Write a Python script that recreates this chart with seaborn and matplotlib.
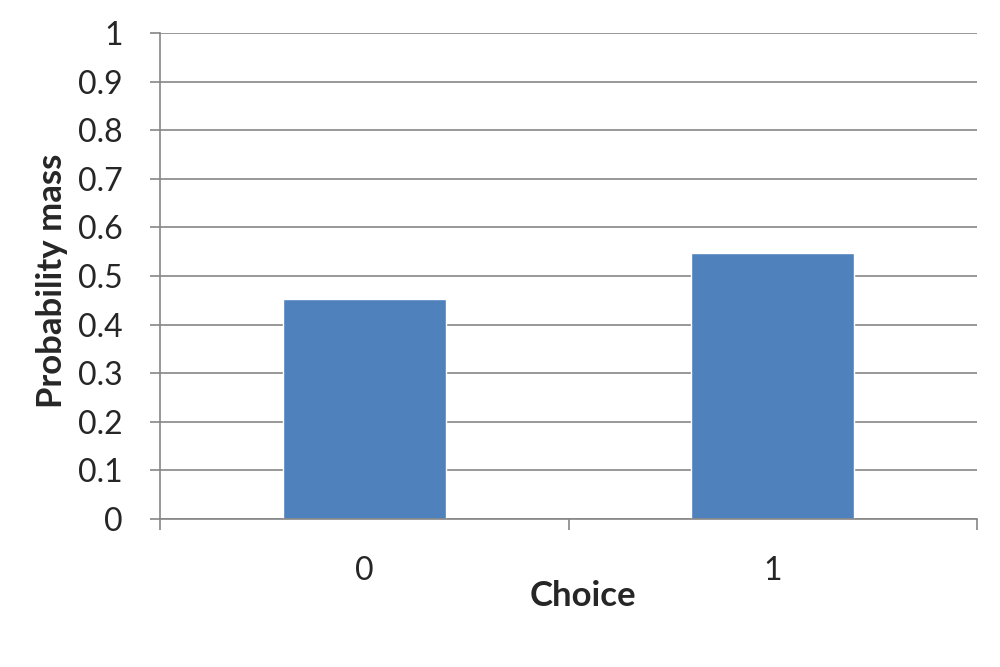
import matplotlib
matplotlib.use("Agg")
import matplotlib.pyplot as plt
import seaborn as sns
import pandas as pd
import numpy as np

categories = ["0", "1"]
values = [0.453, 0.547]
yticks = [0, 0.1, 0.2, 0.3, 0.4, 0.5, 0.6, 0.7, 0.8, 0.9, 1]
ytick_labels = ["0", "0.1", "0.2", "0.3", "0.4", "0.5", "0.6", "0.7", "0.8", "0.9", "1"]

sns.set_style("white")
plt.rcParams['font.family'] = ['Lato', 'DejaVu Sans']

df = pd.DataFrame({"Choice": categories, "Probability mass": values})

fig = plt.figure(figsize=(10, 6.67), dpi=100)
ax = fig.add_axes([0.16, 0.2219, 0.817, 0.7286])
grid_c = "#868686"
sns.barplot(data=df, x="Choice", y="Probability mass", color="#4F81BD",
            width=0.4, saturation=1, ax=ax, zorder=3)
ax.set_ylim(0, 1)
ax.set_xlim(-0.5, 1.5)
ax.set_yticks(yticks)
ax.set_yticklabels(ytick_labels)
ax.yaxis.grid(True, color=grid_c, linewidth=1.2, zorder=0)
ax.set_axisbelow(True)
for s in ["top", "right"]:
    ax.spines[s].set_visible(False)
for s in ["left", "bottom"]:
    ax.spines[s].set_color(grid_c)
    ax.spines[s].set_linewidth(1.2)
    ax.spines[s].set_zorder(4)
ax.tick_params(axis="y", direction="out", length=7, width=1.2, color=grid_c,
               labelsize=23, pad=20, left=True)
ax.tick_params(axis="x", which="major", length=0, labelsize=23, pad=27)
ax.set_xticks([-0.5, 0.5, 1.5], minor=True)
ax.tick_params(axis="x", which="minor", direction="out", length=8, width=1.2,
               color=grid_c, bottom=True)
ax.set_xlabel("Choice", fontsize=25, fontweight="bold")
ax.set_ylabel("Probability mass", fontsize=25, fontweight="bold")
ax.xaxis.set_label_coords(0.518, -0.126)
ax.yaxis.set_label_coords(-0.1125, 0.49)
fig.savefig("out.png", dpi=100)
